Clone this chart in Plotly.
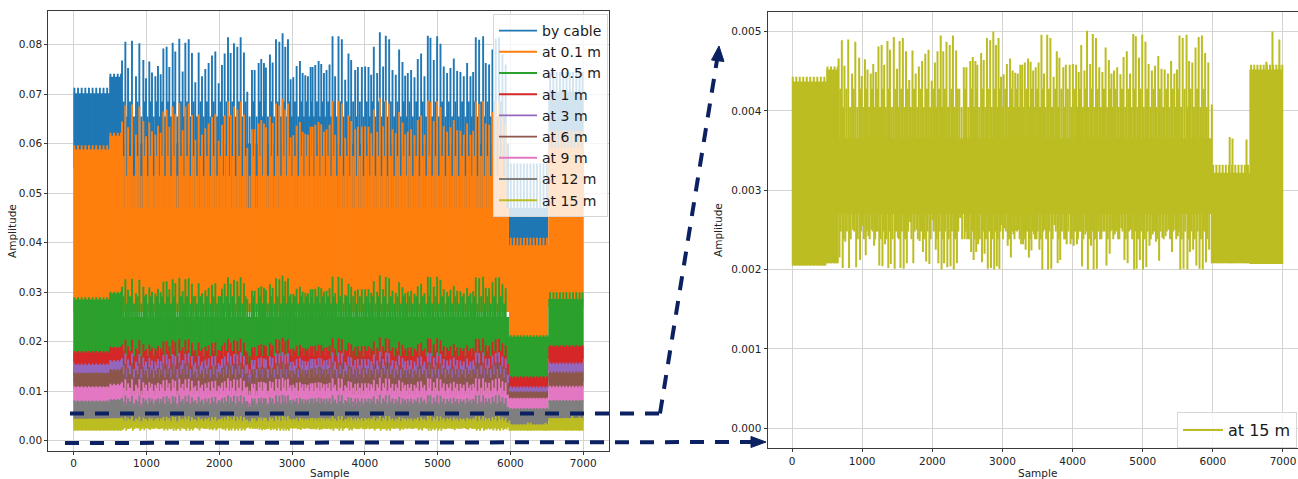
import plotly.graph_objects as go

W, H = 1298, 479

NAMES = ["by cable", "at 0.1 m", "at 0.5 m", "at 1 m", "at 3 m", "at 6 m", "at 9 m", "at 12 m", "at 15 m"]
COLORS = ["#1f77b4", "#ff7f0e", "#2ca02c", "#d62728", "#9467bd", "#8c564b", "#e377c2", "#7f7f7f", "#bcbd22"]

# sample ranges of the five regimes: A, B, C (main), D (low), E (recovery)
SEG_X = [0, 490, 660, 5980, 6520, 7000]

# dense-band lower / upper envelope per regime, one value per series (order of NAMES)
A_LO = [0.0550, 0.0260, 0.0160, 0.0135, 0.0118, 0.0105, 0.0078, 0.0040, 0.00205]
A_HI = [0.0702, 0.0588, 0.0285, 0.0178, 0.0153, 0.0136, 0.0108, 0.0079, 0.00437]
A_PK = [0.0713, 0.0597, 0.0290, 0.0181, 0.0156, 0.0138, 0.0110, 0.0081, 0.00443]
B_LO = [0.0560, 0.0270, 0.0165, 0.0140, 0.0122, 0.0108, 0.0080, 0.0042, 0.00208]
B_HI = [0.0735, 0.0616, 0.0298, 0.0188, 0.0160, 0.0142, 0.0112, 0.0082, 0.00452]
B_PK = [0.0741, 0.0622, 0.0301, 0.0190, 0.0163, 0.0145, 0.0115, 0.0084, 0.00456]
C_LO = [0.0440, 0.0260, 0.0150, 0.0115, 0.0095, 0.0085, 0.0062, 0.0035, 0.00270]
C_HI = [0.0600, 0.0470, 0.0250, 0.0155, 0.0133, 0.0116, 0.0093, 0.0068, 0.00365]
# typical level of the in-between oscillations of the main regime (two alternating levels)
C_SUB1 = [0.0685, 0.0575, 0.0292, 0.0181, 0.0152, 0.0134, 0.0107, 0.0079, 0.00428]
C_SUB2 = [0.0655, 0.0535, 0.0277, 0.0171, 0.0145, 0.0127, 0.0101, 0.0075, 0.00405]
D_LO = [0.0390, 0.0200, 0.0120, 0.0100, 0.0090, 0.0078, 0.0058, 0.0030, 0.00208]
D_HI = [0.0470, 0.0395, 0.0210, 0.0127, 0.0107, 0.0098, 0.0085, 0.0064, 0.00322]
D_PK = [0.0560, 0.0410, 0.0213, 0.0130, 0.0110, 0.0100, 0.0087, 0.0066, 0.00332]
E_LO = [0.0470, 0.0270, 0.0165, 0.0140, 0.0120, 0.0106, 0.0078, 0.0040, 0.00207]
E_HI = [0.0705, 0.0592, 0.0286, 0.0190, 0.0155, 0.0137, 0.0108, 0.0080, 0.00452]
E_PK = [0.0745, 0.0626, 0.0300, 0.0193, 0.0158, 0.0140, 0.0111, 0.0082, 0.00458]

# small comb spikes in the quieter regimes
MINOR_X_A = [10, 60, 110, 160, 210, 260, 310, 360, 410, 460]
MINOR_X_B = [505, 555, 605, 650]
MINOR_X_D = [6005, 6050, 6095, 6140, 6185, 6230, 6275, 6320, 6365, 6410, 6455, 6500]
MINOR_X_E = [6545, 6590, 6635, 6680, 6725, 6770, 6815, 6860, 6905, 6950, 6990]

# main burst spikes (sample positions) and peak amplitude of each series
SPIKE_X = [664, 710, 747, 801, 856, 902, 957, 994, 1039, 1076,
           1122, 1158, 1195, 1232, 1277, 1314, 1360, 1396, 1451, 1497,
           1534, 1580, 1625, 1671, 1717, 1763, 1808, 1854, 1900, 1946,
           1992, 2037, 2074, 2120, 2156, 2202, 2248, 2294, 2339, 2385,
           2449, 2486, 2541, 2577, 2614, 2641, 2696, 2733, 2779, 2825,
           2870, 2907, 2944, 2980, 3017, 3063, 3108, 3145, 3182, 3218,
           3255, 3282, 3319, 3365, 3401, 3438, 3474, 3515, 3556, 3592,
           3638, 3684, 3730, 3775, 3812, 3867, 3904, 3959, 4004, 4050,
           4087, 4123, 4169, 4206, 4251, 4288, 4334, 4380, 4425, 4471,
           4517, 4554, 4590, 4636, 4682, 4727, 4773, 4819, 4865, 4901,
           4947, 4993, 5039, 5084, 5130, 5176, 5222, 5268, 5313, 5359,
           5405, 5451, 5488, 5524, 5570, 5625, 5661, 5707, 5753, 5798,
           5844, 5890, 5935]

PK_CABLE = [0.0768, 0.0806, 0.0753, 0.0808, 0.0736, 0.0803, 0.0769, 0.0732, 0.0766, 0.0744,
            0.0736, 0.0757, 0.0740, 0.0792, 0.0796, 0.0755, 0.0804, 0.0786, 0.0812, 0.0746,
            0.0804, 0.0811, 0.0783, 0.0724, 0.0784, 0.0736, 0.0751, 0.0763, 0.0778, 0.0786,
            0.0722, 0.0759, 0.0782, 0.0815, 0.0783, 0.0803, 0.0796, 0.0815, 0.0784, 0.0705,
            0.0749, 0.0749, 0.0763, 0.0771, 0.0763, 0.0754, 0.0780, 0.0764, 0.0811, 0.0806,
            0.0823, 0.0796, 0.0811, 0.0730, 0.0734, 0.0757, 0.0767, 0.0743, 0.0738, 0.0736,
            0.0755, 0.0755, 0.0759, 0.0767, 0.0761, 0.0743, 0.0749, 0.0760, 0.0817, 0.0736,
            0.0817, 0.0811, 0.0729, 0.0782, 0.0769, 0.0749, 0.0755, 0.0755, 0.0756, 0.0755,
            0.0739, 0.0796, 0.0743, 0.0825, 0.0756, 0.0818, 0.0811, 0.0749, 0.0739, 0.0790,
            0.0765, 0.0737, 0.0743, 0.0749, 0.0734, 0.0771, 0.0782, 0.0736, 0.0818, 0.0814,
            0.0769, 0.0817, 0.0802, 0.0756, 0.0743, 0.0753, 0.0772, 0.0747, 0.0745, 0.0736,
            0.0763, 0.0736, 0.0745, 0.0815, 0.0810, 0.0817, 0.0763, 0.0760, 0.0790, 0.0812,
            0.0815, 0.0780, 0.0760]

PK_01 = [0.0645, 0.0677, 0.0633, 0.0679, 0.0618, 0.0675, 0.0646, 0.0615, 0.0643, 0.0625,
         0.0618, 0.0636, 0.0622, 0.0665, 0.0669, 0.0634, 0.0675, 0.0660, 0.0682, 0.0627,
         0.0675, 0.0681, 0.0658, 0.0608, 0.0659, 0.0618, 0.0631, 0.0641, 0.0654, 0.0660,
         0.0606, 0.0638, 0.0657, 0.0685, 0.0658, 0.0675, 0.0669, 0.0685, 0.0659, 0.0592,
         0.0629, 0.0629, 0.0641, 0.0648, 0.0641, 0.0633, 0.0655, 0.0642, 0.0681, 0.0677,
         0.0691, 0.0669, 0.0681, 0.0613, 0.0617, 0.0636, 0.0644, 0.0624, 0.0620, 0.0618,
         0.0634, 0.0634, 0.0638, 0.0644, 0.0639, 0.0624, 0.0629, 0.0638, 0.0686, 0.0618,
         0.0686, 0.0681, 0.0612, 0.0657, 0.0646, 0.0629, 0.0634, 0.0634, 0.0635, 0.0634,
         0.0621, 0.0669, 0.0624, 0.0693, 0.0635, 0.0687, 0.0681, 0.0629, 0.0621, 0.0664,
         0.0643, 0.0619, 0.0624, 0.0629, 0.0617, 0.0648, 0.0657, 0.0618, 0.0687, 0.0684,
         0.0646, 0.0686, 0.0674, 0.0635, 0.0624, 0.0633, 0.0648, 0.0627, 0.0626, 0.0618,
         0.0641, 0.0618, 0.0626, 0.0685, 0.0680, 0.0686, 0.0641, 0.0638, 0.0664, 0.0682,
         0.0685, 0.0655, 0.0638]

PK_05 = [0.0311, 0.0326, 0.0305, 0.0327, 0.0298, 0.0325, 0.0311, 0.0296, 0.0310, 0.0301,
         0.0298, 0.0307, 0.0300, 0.0321, 0.0322, 0.0306, 0.0326, 0.0318, 0.0329, 0.0302,
         0.0326, 0.0328, 0.0317, 0.0293, 0.0318, 0.0298, 0.0304, 0.0309, 0.0315, 0.0318,
         0.0292, 0.0307, 0.0317, 0.0330, 0.0317, 0.0325, 0.0322, 0.0330, 0.0318, 0.0286,
         0.0303, 0.0303, 0.0309, 0.0312, 0.0309, 0.0305, 0.0316, 0.0309, 0.0328, 0.0326,
         0.0333, 0.0322, 0.0328, 0.0296, 0.0297, 0.0307, 0.0311, 0.0301, 0.0299, 0.0298,
         0.0306, 0.0306, 0.0307, 0.0311, 0.0308, 0.0301, 0.0303, 0.0308, 0.0331, 0.0298,
         0.0331, 0.0328, 0.0295, 0.0317, 0.0311, 0.0303, 0.0306, 0.0306, 0.0306, 0.0306,
         0.0299, 0.0322, 0.0301, 0.0334, 0.0306, 0.0331, 0.0328, 0.0303, 0.0299, 0.0320,
         0.0310, 0.0298, 0.0301, 0.0303, 0.0297, 0.0312, 0.0317, 0.0298, 0.0331, 0.0330,
         0.0311, 0.0331, 0.0325, 0.0306, 0.0301, 0.0305, 0.0313, 0.0303, 0.0302, 0.0298,
         0.0309, 0.0298, 0.0302, 0.0330, 0.0328, 0.0331, 0.0309, 0.0308, 0.0320, 0.0329,
         0.0330, 0.0316, 0.0308]

PK_1 = [0.0194, 0.0204, 0.0191, 0.0204, 0.0186, 0.0203, 0.0195, 0.0185, 0.0194, 0.0188,
        0.0186, 0.0192, 0.0187, 0.0200, 0.0201, 0.0191, 0.0203, 0.0199, 0.0205, 0.0189,
        0.0203, 0.0205, 0.0198, 0.0183, 0.0198, 0.0186, 0.0190, 0.0193, 0.0197, 0.0199,
        0.0183, 0.0192, 0.0198, 0.0206, 0.0198, 0.0203, 0.0201, 0.0206, 0.0198, 0.0178,
        0.0189, 0.0189, 0.0193, 0.0195, 0.0193, 0.0191, 0.0197, 0.0193, 0.0205, 0.0204,
        0.0208, 0.0201, 0.0205, 0.0185, 0.0186, 0.0192, 0.0194, 0.0188, 0.0187, 0.0186,
        0.0191, 0.0191, 0.0192, 0.0194, 0.0193, 0.0188, 0.0189, 0.0192, 0.0207, 0.0186,
        0.0207, 0.0205, 0.0184, 0.0198, 0.0195, 0.0189, 0.0191, 0.0191, 0.0191, 0.0191,
        0.0187, 0.0201, 0.0188, 0.0209, 0.0191, 0.0207, 0.0205, 0.0189, 0.0187, 0.0200,
        0.0194, 0.0186, 0.0188, 0.0189, 0.0186, 0.0195, 0.0198, 0.0186, 0.0207, 0.0206,
        0.0195, 0.0207, 0.0203, 0.0191, 0.0188, 0.0191, 0.0195, 0.0189, 0.0188, 0.0186,
        0.0193, 0.0186, 0.0188, 0.0206, 0.0205, 0.0207, 0.0193, 0.0192, 0.0200, 0.0205,
        0.0206, 0.0197, 0.0192]

PK_3 = [0.0167, 0.0176, 0.0164, 0.0176, 0.0160, 0.0175, 0.0168, 0.0160, 0.0167, 0.0162,
        0.0160, 0.0165, 0.0161, 0.0173, 0.0174, 0.0165, 0.0175, 0.0171, 0.0177, 0.0163,
        0.0175, 0.0177, 0.0171, 0.0158, 0.0171, 0.0160, 0.0164, 0.0166, 0.0170, 0.0171,
        0.0157, 0.0165, 0.0170, 0.0178, 0.0171, 0.0175, 0.0174, 0.0178, 0.0171, 0.0154,
        0.0163, 0.0163, 0.0166, 0.0168, 0.0166, 0.0164, 0.0170, 0.0167, 0.0177, 0.0176,
        0.0179, 0.0174, 0.0177, 0.0159, 0.0160, 0.0165, 0.0167, 0.0162, 0.0161, 0.0160,
        0.0165, 0.0165, 0.0165, 0.0167, 0.0166, 0.0162, 0.0163, 0.0166, 0.0178, 0.0160,
        0.0178, 0.0177, 0.0159, 0.0170, 0.0168, 0.0163, 0.0165, 0.0165, 0.0165, 0.0165,
        0.0161, 0.0174, 0.0162, 0.0180, 0.0165, 0.0178, 0.0177, 0.0163, 0.0161, 0.0172,
        0.0167, 0.0161, 0.0162, 0.0163, 0.0160, 0.0168, 0.0170, 0.0160, 0.0178, 0.0177,
        0.0168, 0.0178, 0.0175, 0.0165, 0.0162, 0.0164, 0.0168, 0.0163, 0.0162, 0.0160,
        0.0166, 0.0160, 0.0162, 0.0178, 0.0177, 0.0178, 0.0166, 0.0166, 0.0172, 0.0177,
        0.0178, 0.0170, 0.0166]

PK_6 = [0.0149, 0.0156, 0.0146, 0.0157, 0.0143, 0.0156, 0.0149, 0.0142, 0.0149, 0.0144,
        0.0143, 0.0147, 0.0144, 0.0154, 0.0154, 0.0146, 0.0156, 0.0152, 0.0158, 0.0145,
        0.0156, 0.0157, 0.0152, 0.0140, 0.0152, 0.0143, 0.0146, 0.0148, 0.0151, 0.0152,
        0.0140, 0.0147, 0.0152, 0.0158, 0.0152, 0.0156, 0.0154, 0.0158, 0.0152, 0.0137,
        0.0145, 0.0145, 0.0148, 0.0150, 0.0148, 0.0146, 0.0151, 0.0148, 0.0157, 0.0156,
        0.0160, 0.0154, 0.0157, 0.0142, 0.0142, 0.0147, 0.0149, 0.0144, 0.0143, 0.0143,
        0.0146, 0.0146, 0.0147, 0.0149, 0.0148, 0.0144, 0.0145, 0.0147, 0.0158, 0.0143,
        0.0158, 0.0157, 0.0141, 0.0152, 0.0149, 0.0145, 0.0146, 0.0146, 0.0147, 0.0146,
        0.0143, 0.0154, 0.0144, 0.0160, 0.0147, 0.0159, 0.0157, 0.0145, 0.0143, 0.0153,
        0.0148, 0.0143, 0.0144, 0.0145, 0.0142, 0.0150, 0.0152, 0.0143, 0.0159, 0.0158,
        0.0149, 0.0158, 0.0156, 0.0147, 0.0144, 0.0146, 0.0150, 0.0145, 0.0145, 0.0143,
        0.0148, 0.0143, 0.0145, 0.0158, 0.0157, 0.0158, 0.0148, 0.0147, 0.0153, 0.0158,
        0.0158, 0.0151, 0.0147]

PK_9 = [0.0118, 0.0124, 0.0116, 0.0124, 0.0113, 0.0124, 0.0118, 0.0113, 0.0118, 0.0115,
        0.0113, 0.0117, 0.0114, 0.0122, 0.0123, 0.0116, 0.0124, 0.0121, 0.0125, 0.0115,
        0.0124, 0.0125, 0.0121, 0.0111, 0.0121, 0.0113, 0.0116, 0.0118, 0.0120, 0.0121,
        0.0111, 0.0117, 0.0120, 0.0126, 0.0121, 0.0124, 0.0123, 0.0126, 0.0121, 0.0109,
        0.0115, 0.0115, 0.0118, 0.0119, 0.0118, 0.0116, 0.0120, 0.0118, 0.0125, 0.0124,
        0.0127, 0.0123, 0.0125, 0.0112, 0.0113, 0.0117, 0.0118, 0.0114, 0.0114, 0.0113,
        0.0116, 0.0116, 0.0117, 0.0118, 0.0117, 0.0114, 0.0115, 0.0117, 0.0126, 0.0113,
        0.0126, 0.0125, 0.0112, 0.0120, 0.0118, 0.0115, 0.0116, 0.0116, 0.0116, 0.0116,
        0.0114, 0.0123, 0.0114, 0.0127, 0.0116, 0.0126, 0.0125, 0.0115, 0.0114, 0.0122,
        0.0118, 0.0113, 0.0114, 0.0115, 0.0113, 0.0119, 0.0120, 0.0113, 0.0126, 0.0125,
        0.0118, 0.0126, 0.0124, 0.0116, 0.0114, 0.0116, 0.0119, 0.0115, 0.0115, 0.0113,
        0.0118, 0.0113, 0.0115, 0.0126, 0.0125, 0.0126, 0.0118, 0.0117, 0.0122, 0.0125,
        0.0126, 0.0120, 0.0117]

PK_12 = [0.0087, 0.0091, 0.0085, 0.0091, 0.0083, 0.0091, 0.0087, 0.0083, 0.0087, 0.0084,
         0.0083, 0.0086, 0.0084, 0.0089, 0.0090, 0.0085, 0.0091, 0.0089, 0.0092, 0.0084,
         0.0091, 0.0092, 0.0088, 0.0082, 0.0089, 0.0083, 0.0085, 0.0086, 0.0088, 0.0089,
         0.0082, 0.0086, 0.0088, 0.0092, 0.0088, 0.0091, 0.0090, 0.0092, 0.0089, 0.0080,
         0.0085, 0.0085, 0.0086, 0.0087, 0.0086, 0.0085, 0.0088, 0.0086, 0.0092, 0.0091,
         0.0093, 0.0090, 0.0092, 0.0082, 0.0083, 0.0086, 0.0087, 0.0084, 0.0083, 0.0083,
         0.0085, 0.0085, 0.0086, 0.0087, 0.0086, 0.0084, 0.0085, 0.0086, 0.0092, 0.0083,
         0.0092, 0.0092, 0.0082, 0.0088, 0.0087, 0.0085, 0.0085, 0.0085, 0.0085, 0.0085,
         0.0084, 0.0090, 0.0084, 0.0093, 0.0085, 0.0092, 0.0092, 0.0085, 0.0084, 0.0089,
         0.0086, 0.0083, 0.0084, 0.0085, 0.0083, 0.0087, 0.0088, 0.0083, 0.0092, 0.0092,
         0.0087, 0.0092, 0.0091, 0.0085, 0.0084, 0.0085, 0.0087, 0.0084, 0.0084, 0.0083,
         0.0086, 0.0083, 0.0084, 0.0092, 0.0092, 0.0092, 0.0086, 0.0086, 0.0089, 0.0092,
         0.0092, 0.0088, 0.0086]

PK_15 = [0.00466, 0.00489, 0.00457, 0.00490, 0.00447, 0.00487, 0.00467, 0.00444, 0.00465, 0.00452,
         0.00447, 0.00459, 0.00449, 0.00481, 0.00483, 0.00458, 0.00488, 0.00477, 0.00493, 0.00453,
         0.00488, 0.00492, 0.00475, 0.00439, 0.00476, 0.00447, 0.00456, 0.00463, 0.00472, 0.00477,
         0.00438, 0.00461, 0.00475, 0.00495, 0.00475, 0.00487, 0.00483, 0.00495, 0.00476, 0.00428,
         0.00455, 0.00455, 0.00463, 0.00468, 0.00463, 0.00458, 0.00473, 0.00464, 0.00492, 0.00489,
         0.00500, 0.00483, 0.00492, 0.00443, 0.00446, 0.00459, 0.00466, 0.00451, 0.00448, 0.00447,
         0.00458, 0.00458, 0.00461, 0.00466, 0.00462, 0.00451, 0.00455, 0.00461, 0.00496, 0.00447,
         0.00496, 0.00492, 0.00443, 0.00475, 0.00467, 0.00455, 0.00458, 0.00458, 0.00459, 0.00458,
         0.00449, 0.00483, 0.00451, 0.00501, 0.00459, 0.00497, 0.00492, 0.00455, 0.00449, 0.00480,
         0.00464, 0.00447, 0.00451, 0.00455, 0.00446, 0.00468, 0.00475, 0.00447, 0.00497, 0.00494,
         0.00467, 0.00496, 0.00487, 0.00459, 0.00451, 0.00457, 0.00469, 0.00453, 0.00452, 0.00447,
         0.00463, 0.00447, 0.00452, 0.00495, 0.00492, 0.00496, 0.00463, 0.00461, 0.00480, 0.00493,
         0.00495, 0.00473, 0.00461]

# downward swings of the 15 m signal at the same bursts
DIP_15 = [0.00215, 0.00202, 0.00235, 0.00202, 0.00250, 0.00203, 0.00212, 0.00255, 0.00218, 0.00242,
          0.00250, 0.00230, 0.00248, 0.00205, 0.00204, 0.00232, 0.00202, 0.00207, 0.00201, 0.00240,
          0.00202, 0.00201, 0.00208, 0.00260, 0.00208, 0.00250, 0.00236, 0.00222, 0.00210, 0.00207,
          0.00262, 0.00225, 0.00208, 0.00200, 0.00208, 0.00203, 0.00204, 0.00200, 0.00208, 0.00265,
          0.00238, 0.00238, 0.00222, 0.00212, 0.00222, 0.00232, 0.00209, 0.00220, 0.00201, 0.00202,
          0.00200, 0.00204, 0.00201, 0.00256, 0.00252, 0.00230, 0.00215, 0.00244, 0.00249, 0.00250,
          0.00232, 0.00232, 0.00225, 0.00215, 0.00224, 0.00244, 0.00238, 0.00225, 0.00200, 0.00250,
          0.00200, 0.00201, 0.00256, 0.00208, 0.00212, 0.00238, 0.00232, 0.00232, 0.00230, 0.00232,
          0.00248, 0.00204, 0.00244, 0.00200, 0.00230, 0.00200, 0.00201, 0.00238, 0.00248, 0.00205,
          0.00220, 0.00250, 0.00244, 0.00238, 0.00252, 0.00212, 0.00208, 0.00250, 0.00200, 0.00201,
          0.00212, 0.00200, 0.00203, 0.00230, 0.00244, 0.00235, 0.00211, 0.00240, 0.00242, 0.00250,
          0.00222, 0.00250, 0.00242, 0.00200, 0.00201, 0.00200, 0.00222, 0.00225, 0.00205, 0.00201,
          0.00200, 0.00209, 0.00225]
# typical lower level of the in-between swings of the 15 m signal (two alternating levels)
SUB_DIP_15 = [0.00248, 0.00238]

# isolated 15 m bursts outside the main regime
EXTRA15_X = [5985, 6240, 6280, 6480, 6763, 6850, 6948]
EXTRA15_PK = [0.00408, 0.00367, 0.00365, 0.00364, 0.00462, 0.00500, 0.00490]

PEAKS = [PK_CABLE, PK_01, PK_05, PK_1, PK_3, PK_6, PK_9, PK_12, PK_15]
for p in PEAKS + [DIP_15]:
    assert len(p) == len(SPIKE_X), len(p)

NAVY = "#0b2161"
FONT = "DejaVu Sans"


def seg_of(x):
    for k in range(5):
        if SEG_X[k] <= x < SEG_X[k + 1]:
            return k
    return 4


def series_traces(i, xa, ya, width, legend):
    lo = [A_LO[i], B_LO[i], C_LO[i], D_LO[i], E_LO[i]]
    hi = [A_HI[i], B_HI[i], C_HI[i], D_HI[i], E_HI[i]]
    bx, by = [], []
    for k in range(5):
        bx += [SEG_X[k], SEG_X[k + 1]]
        by += [hi[k], hi[k]]
    for k in reversed(range(5)):
        bx += [SEG_X[k + 1], SEG_X[k]]
        by += [lo[k], lo[k]]
    band = go.Scatter(x=bx, y=by, fill="toself", fillcolor=COLORS[i], mode="lines",
                      line=dict(width=0, color=COLORS[i]), xaxis=xa, yaxis=ya,
                      showlegend=False, hoverinfo="skip")
    sx, sy = [], []
    # in-between oscillations of the main regime (midway between bursts)
    for j in range(len(SPIKE_X) - 1):
        xm = (SPIKE_X[j] + SPIKE_X[j + 1]) / 2
        sx += [xm, xm, None]
        sy += [C_LO[i], (C_SUB1 if j % 2 == 0 else C_SUB2)[i], None]
        if i == 8:
            sx += [xm + 8, xm + 8, None]
            sy += [C_HI[i], SUB_DIP_15[j % 2], None]
    for x, p in zip(SPIKE_X, PEAKS[i]):
        k = seg_of(x)
        sx += [x, x, None]
        sy += [lo[k], p, None]
    for k, xs, pk in [(0, MINOR_X_A, A_PK), (1, MINOR_X_B, B_PK), (3, MINOR_X_D, D_PK), (4, MINOR_X_E, E_PK)]:
        for x in xs:
            sx += [x, x, None]
            sy += [lo[k], pk[i], None]
    if i == 8:
        for x, d in zip(SPIKE_X, DIP_15):
            k = seg_of(x)
            sx += [x + 12, x + 12, None]
            sy += [hi[k], d, None]
        for x, p in zip(EXTRA15_X, EXTRA15_PK):
            k = seg_of(x)
            sx += [x, x, None]
            sy += [lo[k], p, None]
    spikes = go.Scatter(x=sx, y=sy, mode="lines", line=dict(width=width, color=COLORS[i]),
                        name=NAMES[i], xaxis=xa, yaxis=ya, showlegend=True,
                        legend=legend, hoverinfo="skip")
    return [band, spikes]


fig = go.Figure()
for i in range(9):
    for t in series_traces(i, "x", "y", 1.9, "legend"):
        fig.add_trace(t)
for t in series_traces(8, "x2", "y2", 2.0, "legend2"):
    fig.add_trace(t)


def px(x):
    return x / W


def py(y):
    return 1 - y / H


axis_common = dict(showgrid=True, gridcolor="#d3d3d3", gridwidth=1, zeroline=False,
                   showline=True, linecolor="#3a3a3a", linewidth=1, ticks="outside",
                   ticklen=3, tickcolor="#3a3a3a",
                   tickfont=dict(family=FONT, size=10.5, color="#222222"))

XTICKS = [0, 1000, 2000, 3000, 4000, 5000, 6000, 7000]
YTICKS_L = [0.00, 0.01, 0.02, 0.03, 0.04, 0.05, 0.06, 0.07, 0.08]
YTICKS_R = [0.000, 0.001, 0.002, 0.003, 0.004, 0.005]

label_font = dict(family=FONT, size=10.5, color="#222222")

fig.update_layout(
    width=W, height=H,
    margin=dict(l=0, r=0, t=0, b=0, autoexpand=False),
    paper_bgcolor="white", plot_bgcolor="white",
    xaxis=dict(domain=[px(48.2), px(608.7)], range=[-350, 7350], tickvals=XTICKS,
               mirror=True, anchor="y", **axis_common),
    yaxis=dict(domain=[py(450.7), py(11)], range=[-0.00202, 0.0868], tickvals=YTICKS_L,
               ticktext=["%.2f" % v for v in YTICKS_L], mirror=True, anchor="x", **axis_common),
    xaxis2=dict(domain=[px(767.5), 1.0], range=[-350, 7214], tickvals=XTICKS,
                mirror=True, anchor="y2", **axis_common),
    yaxis2=dict(domain=[py(448), py(11.7)], range=[-0.00025, 0.00525], tickvals=YTICKS_R,
                ticktext=["%.3f" % v for v in YTICKS_R], mirror=False, anchor="x2", **axis_common),
    legend=dict(x=px(608), y=py(14), xanchor="right", yanchor="top",
                bgcolor="rgba(255,255,255,0.8)", bordercolor="#d6d6d6", borderwidth=1,
                font=dict(family=FONT, size=14, color="#1a1a1a"), itemwidth=38,
                tracegroupgap=0),
    legend2=dict(x=px(1177), y=py(412), xanchor="left", yanchor="top",
                 bgcolor="rgba(255,255,255,0.8)", bordercolor="#d6d6d6", borderwidth=1,
                 font=dict(family=FONT, size=16, color="#1a1a1a"), itemwidth=40),
    annotations=[
        dict(text="Amplitude", x=px(12), y=py(231), xref="paper", yref="paper",
             xanchor="center", yanchor="middle",
             textangle=-90, showarrow=False, font=label_font),
        dict(text="Amplitude", x=px(718), y=py(230), xref="paper", yref="paper",
             xanchor="center", yanchor="middle",
             textangle=-90, showarrow=False, font=label_font),
        dict(text="Sample", x=px(329), y=py(472.5), xref="paper", yref="paper",
             xanchor="center", yanchor="middle", showarrow=False, font=label_font),
        dict(text="Sample", x=px(1037), y=py(472.5), xref="paper", yref="paper",
             xanchor="center", yanchor="middle", showarrow=False, font=label_font),
    ],
)

dash = "14px,11px"
shapes = [
    dict(type="line", xref="paper", yref="paper", x0=px(70), y0=py(413.5), x1=px(660), y1=py(413.5),
         line=dict(color=NAVY, width=4, dash=dash)),
    dict(type="line", xref="paper", yref="paper", x0=px(660), y0=py(413.5), x1=px(717), y1=py(60),
         line=dict(color=NAVY, width=4, dash=dash)),
    dict(type="path", xref="paper", yref="paper",
         path="M %f %f L %f %f L %f %f Z" % (px(719), py(46), px(711.5), py(60), px(724), py(61.5)),
         fillcolor=NAVY, line=dict(color=NAVY, width=1)),
    dict(type="line", xref="paper", yref="paper", x0=px(65), y0=py(443), x1=px(752), y1=py(442),
         line=dict(color=NAVY, width=4, dash=dash)),
    dict(type="path", xref="paper", yref="paper",
         path="M %f %f L %f %f L %f %f Z" % (px(766), py(442), px(751), py(436.5), px(751), py(447.5)),
         fillcolor=NAVY, line=dict(color=NAVY, width=1)),
]
fig.update_layout(shapes=shapes)

fig.write_html("out.html")
